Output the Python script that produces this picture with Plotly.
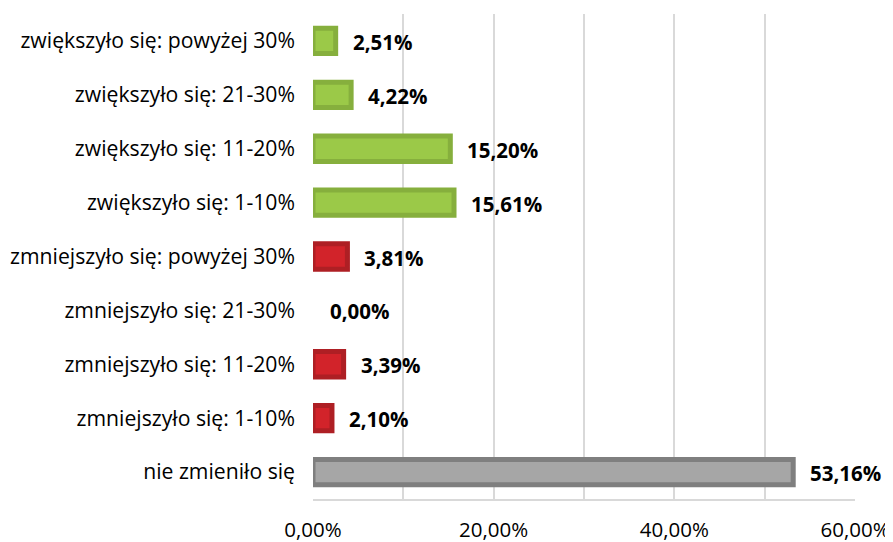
import plotly.graph_objects as go

categories = [
    "zwiększyło się: powyżej 30%",
    "zwiększyło się: 21-30%",
    "zwiększyło się: 11-20%",
    "zwiększyło się: 1-10%",
    "zmniejszyło się: powyżej 30%",
    "zmniejszyło się: 21-30%",
    "zmniejszyło się: 11-20%",
    "zmniejszyło się: 1-10%",
    "nie zmieniło się",
]
values = [2.51, 4.22, 15.20, 15.61, 3.81, 0.00, 3.39, 2.10, 53.16]
groups = ["up", "up", "up", "up", "down", "down", "down", "down", "same"]

fill = {"up": "#9BC948", "down": "#D2232A", "same": "#A6A6A6"}
edge = {"up": "#86AF3D", "down": "#AE1F24", "same": "#7F7F7F"}

tick_vals = [0, 10, 20, 30, 40, 50, 60]
tick_text = ["0,00%", "", "20,00%", "", "40,00%", "", "60,00%"]

FONT = "Open Sans"

fig = go.Figure()
fig.add_trace(go.Bar(
    y=categories,
    x=values,
    orientation="h",
    width=0.47,
    marker=dict(
        color=[fill[g] for g in groups],
        line=dict(color=[edge[g] for g in groups],
                  width=[5 if v > 0 else 0 for v in values]),
    ),
    hoverinfo="skip",
))

for c, v in zip(categories, values):
    fig.add_annotation(
        x=v, y=c, xref="x", yref="y",
        text="<b>" + f"{v:.2f}".replace(".", ",") + "%</b>",
        showarrow=False, xanchor="left", yanchor="middle",
        xshift=15, yshift=-1,
        font=dict(family=FONT, size=20.5, color="#000000"),
    )

# page body adds an 8px offset, so the figure is sized and margined to compensate
fig.update_layout(
    width=885, height=534,
    margin=dict(l=305, r=38, t=6, b=43),
    paper_bgcolor="white", plot_bgcolor="white",
    showlegend=False,
    font=dict(family=FONT, size=20, color="#000000"),
    xaxis=dict(
        range=[0, 60],
        tickvals=tick_vals, ticktext=tick_text,
        showgrid=True, gridcolor="#D9D9D9", gridwidth=1.5,
        showline=True, linecolor="#D9D9D9", linewidth=1.5,
        zeroline=False, ticks="",
        ticklabelstandoff=12,
        automargin=False,
        tickfont=dict(family=FONT, size=20.5, color="#000000"),
    ),
    yaxis=dict(
        autorange="reversed",
        showgrid=False, showline=False, zeroline=False, ticks="",
        ticklabelstandoff=17,
        automargin=False,
        tickfont=dict(family=FONT, size=21.2, color="#000000"),
    ),
)

fig.write_html("out.html")
